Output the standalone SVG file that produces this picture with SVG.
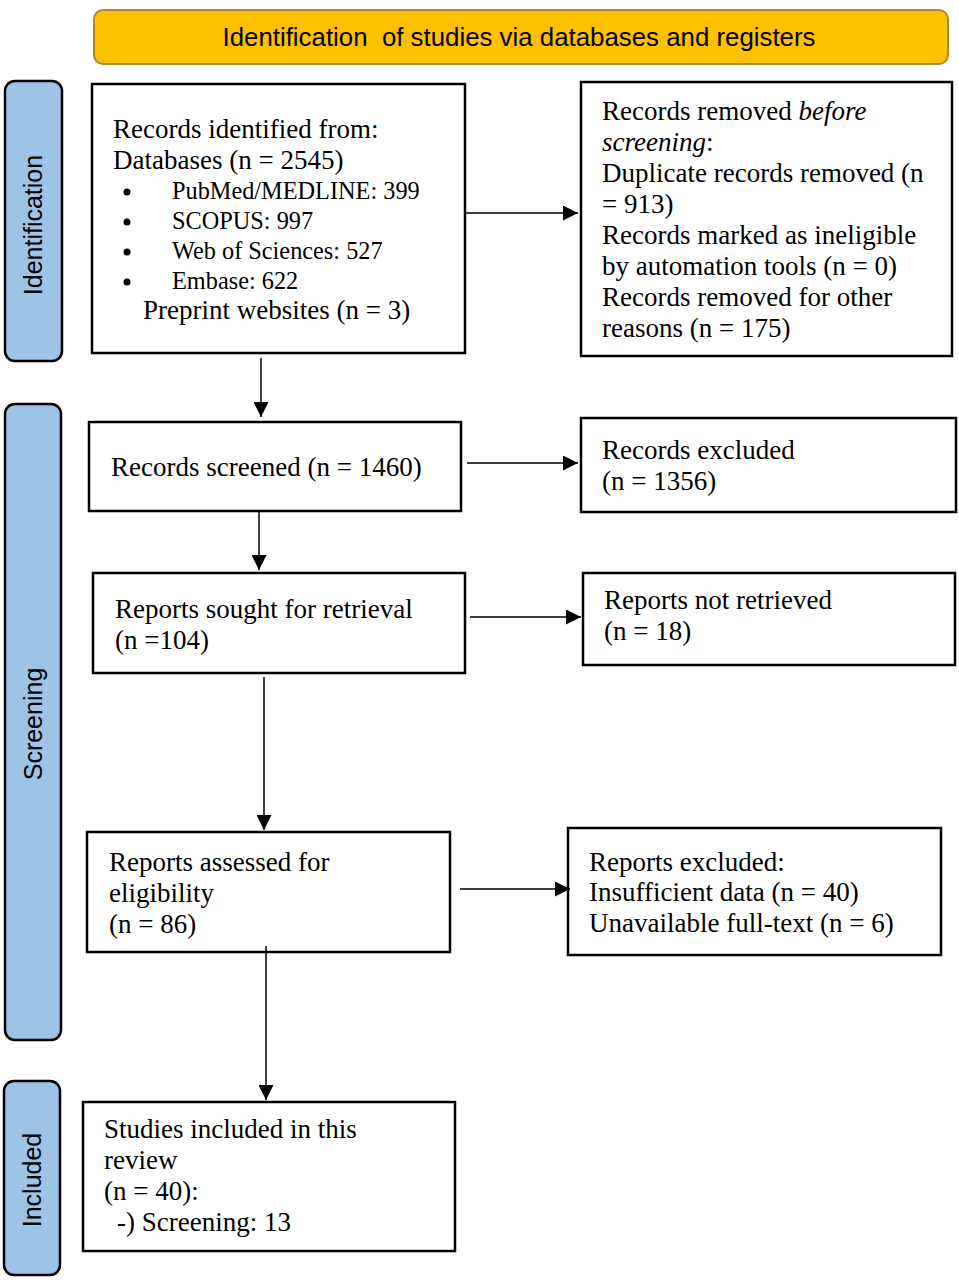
<svg xmlns="http://www.w3.org/2000/svg" width="959" height="1280" viewBox="0 0 959 1280">
<defs>
<marker id="ah" markerWidth="15" markerHeight="15" refX="15" refY="7.5" orient="auto" markerUnits="userSpaceOnUse">
<path d="M0,0 L15,7.5 L0,15 Z" fill="#000"/>
</marker>
<style>
.box{fill:#fff;stroke:#000;stroke-width:2.5}
.side{fill:#9DC3E6;stroke:#000;stroke-width:2.5}
.t{font-family:"Liberation Serif","Times New Roman",serif;font-size:27px;fill:#000}
.b{font-size:24.3px}
.s{font-family:"Liberation Sans",Arial,sans-serif;font-size:25px;fill:#000;text-anchor:middle}
.c{stroke:#000;stroke-width:1.5;fill:none;marker-end:url(#ah)}
</style>
</defs>
<rect width="959" height="1280" fill="#fff"/>
<g id="header">
<rect x="94" y="10" width="854" height="54" rx="9" fill="#FFC000" stroke="#A88A30" stroke-width="2"/>
<text x="519" y="46" font-family="'Liberation Sans',Arial,sans-serif" font-size="26" text-anchor="middle" textLength="593" lengthAdjust="spacingAndGlyphs">Identification&#160; of studies via databases and registers</text>
</g>
<g id="side-identification">
<rect class="side" x="5" y="81" width="57" height="280" rx="10"/>
<text class="s" transform="translate(42,225) rotate(-90)">Identification</text>
</g>
<g id="side-screening">
<rect class="side" x="5" y="404" width="56" height="636" rx="10"/>
<text class="s" transform="translate(42,724) rotate(-90)">Screening</text>
</g>
<g id="side-included">
<rect class="side" x="4" y="1081" width="56" height="194" rx="10"/>
<text class="s" transform="translate(41,1180) rotate(-90)">Included</text>
</g>
<g id="records-identified">
<rect class="box" x="92" y="84" width="373" height="269"/>
<text class="t" x="113" y="138">Records identified from:</text>
<text class="t" x="113" y="169">Databases (n = 2545)</text>
<circle cx="127" cy="192" r="3.5"/><text class="t b" x="172" y="199">PubMed/MEDLINE: 399</text>
<circle cx="127" cy="222" r="3.5"/><text class="t b" x="172" y="229">SCOPUS: 997</text>
<circle cx="127" cy="252" r="3.5"/><text class="t b" x="172" y="259">Web of Sciences: 527</text>
<circle cx="127" cy="282" r="3.5"/><text class="t b" x="172" y="289">Embase: 622</text>
<text class="t" x="143" y="319">Preprint websites (n = 3)</text>
</g>
<g id="records-removed">
<rect class="box" x="581" y="82" width="371" height="274"/>
<text class="t" x="602" y="120">Records removed <tspan font-style="italic">before</tspan></text>
<text class="t" x="602" y="151"><tspan font-style="italic">screening</tspan>:</text>
<text class="t" x="602" y="182">Duplicate records removed (n</text>
<text class="t" x="602" y="213">= 913)</text>
<text class="t" x="602" y="244">Records marked as ineligible</text>
<text class="t" x="602" y="275">by automation tools (n = 0)</text>
<text class="t" x="602" y="306">Records removed for other</text>
<text class="t" x="602" y="337">reasons (n = 175)</text>
</g>
<g id="records-screened">
<rect class="box" x="89" y="422" width="372" height="89"/>
<text class="t" x="111" y="476">Records screened (n = 1460)</text>
</g>
<g id="records-excluded">
<rect class="box" x="581" y="418" width="375" height="94"/>
<text class="t" x="602" y="459">Records excluded</text>
<text class="t" x="602" y="490">(n = 1356)</text>
</g>
<g id="reports-sought">
<rect class="box" x="93" y="573" width="372" height="100"/>
<text class="t" x="115" y="618">Reports sought for retrieval</text>
<text class="t" x="115" y="649">(n =104)</text>
</g>
<g id="reports-not-retrieved">
<rect class="box" x="583" y="573" width="372" height="92"/>
<text class="t" x="604" y="609">Reports not retrieved</text>
<text class="t" x="604" y="640">(n = 18)</text>
</g>
<g id="reports-assessed">
<rect class="box" x="87" y="832" width="363" height="120"/>
<text class="t" x="109" y="871">Reports assessed for</text>
<text class="t" x="109" y="902">eligibility</text>
<text class="t" x="109" y="933">(n = 86)</text>
</g>
<g id="reports-excluded">
<rect class="box" x="568" y="828" width="373" height="127"/>
<text class="t" x="589" y="871">Reports excluded:</text>
<text class="t" x="589" y="901">Insufficient data (n = 40)</text>
<text class="t" x="589" y="932">Unavailable full-text (n = 6)</text>
</g>
<g id="studies-included">
<rect class="box" x="83" y="1102" width="372" height="149"/>
<text class="t" x="104" y="1138">Studies included in this</text>
<text class="t" x="104" y="1169">review</text>
<text class="t" x="104" y="1200">(n = 40):</text>
<text class="t" x="117" y="1231">-) Screening: 13</text>
</g>
<g id="connectors">
<line class="c" x1="466" y1="213" x2="578" y2="213"/>
<line class="c" x1="261" y1="358" x2="261" y2="417"/>
<line class="c" x1="467" y1="463" x2="578" y2="463"/>
<line class="c" x1="259" y1="511" x2="259" y2="570"/>
<line class="c" x1="470" y1="617" x2="581" y2="617"/>
<line class="c" x1="264" y1="677" x2="264" y2="830"/>
<line class="c" x1="460" y1="889" x2="570" y2="889"/>
<line class="c" x1="266" y1="946" x2="266" y2="1100"/>
</g>
</svg>
